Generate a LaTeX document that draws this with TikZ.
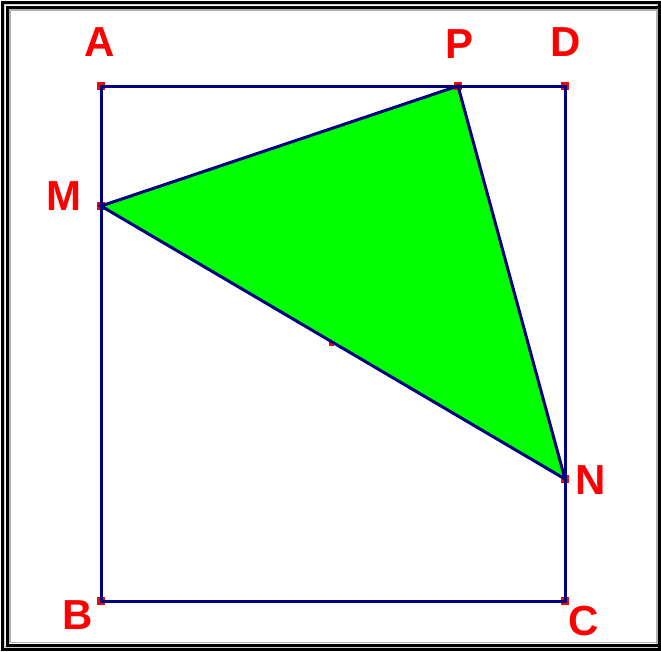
\documentclass[tikz,border=0pt]{standalone}
\usepackage{fontspec}
\setmainfont{Liberation Sans}

\definecolor{navyline}{RGB}{0,0,128}
\definecolor{trigreen}{RGB}{0,255,0}

\tikzset{
  vertex/.style={fill=red, draw=none, minimum size=8pt, inner sep=0pt},
  ptlabel/.style={text=red, inner sep=0pt, font=\fontsize{42}{42}\selectfont\bfseries},
  edge/.style={draw=navyline, line width=3pt},
}

\begin{document}
\begin{tikzpicture}[x=1pt, y=-1pt]
  \useasboundingbox (0,0) rectangle (661,651);

  % Frame
  \draw[line width=3pt] (2,2) rectangle (659.5,649.5);
  \draw[gray!40, line width=1.5pt] (4.5,4.5) rectangle (657,647);
  \draw[line width=3pt] (7.5,7.5) rectangle (659.5,645);
  \draw[gray!60, line width=1.5pt] (10,10) rectangle (657,642.5);

  \coordinate (A) at (101,86);
  \coordinate (D) at (565,86);
  \coordinate (C) at (565,601);
  \coordinate (B) at (101,601);
  \coordinate (M) at (101,206);
  \coordinate (P) at (458,86);
  \coordinate (N) at (565,479);
  \coordinate (Q) at (331,343);

  % Triangle
  \fill[trigreen] (M) -- (P) -- (N) -- cycle;

  % Points
  \foreach \v in {A,B,C,D,M,P,N}
    \node[vertex] (pt\v) at (\v) {};
  \node[vertex, minimum size=5pt] (ptQ) at (Q) {};

  % Sides
  \draw[edge] (A) -- (D) -- (C) -- (B) -- cycle;
  \draw[edge] (M) -- (P) -- (N) -- cycle;

  \node[ptlabel] (lblA) at (100,42)  {A};
  \node[ptlabel] (lblP) at (460,44)  {P};
  \node[ptlabel] (lblD) at (566,42)  {D};
  \node[ptlabel] (lblM) at (64,196)  {M};
  \node[ptlabel] (lblN) at (591,480) {N};
  \node[ptlabel] (lblB) at (78,615)  {B};
  \node[ptlabel] (lblC) at (584,621) {C};

\end{tikzpicture}
\end{document}
